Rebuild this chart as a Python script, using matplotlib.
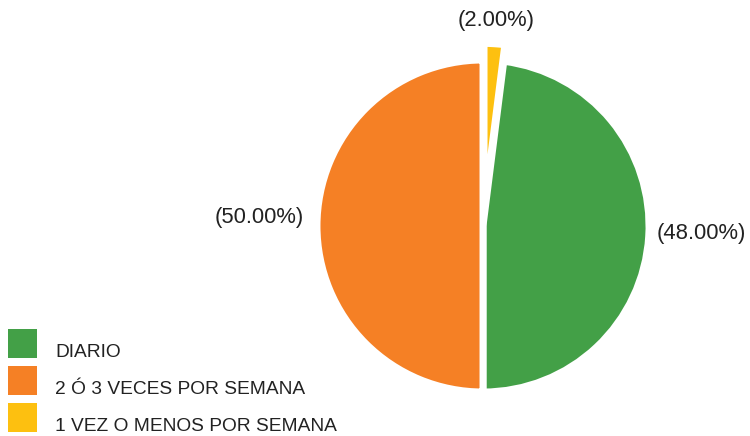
import math
import matplotlib
matplotlib.use("Agg")
import matplotlib.pyplot as plt
from matplotlib.patches import Rectangle

plt.rcParams['font.family'] = ['Liberation Sans', 'DejaVu Sans']

# data
categories = ["DIARIO", "2 Ó 3 VECES POR SEMANA", "1 VEZ O MENOS POR SEMANA"]
shares = [48, 50, 2]
colors = ["#43A047", "#F58025", "#FDC010"]
explode = [0, 0, 0.1]

W, H = 750, 436
fig = plt.figure(figsize=(W / 100, H / 100), dpi=100)
ax = fig.add_axes([0, 0, 1, 1])

labels = ["({:.2f}%)".format(v * 100 / sum(shares)) for v in shares]
wedges, texts = ax.pie(shares, colors=colors, explode=explode, startangle=82.8,
                       counterclock=False, labels=labels, labeldistance=1.08,
                       wedgeprops=dict(edgecolor="white", linewidth=5),
                       textprops=dict(fontsize=15.8, color="#222222"))

# small slice label goes above, centered
w = wedges[2]
mid = math.radians((w.theta1 + w.theta2) / 2)
cx, cy = w.center
texts[2].set_position((cx + 1.14 * math.cos(mid), cy + 1.14 * math.sin(mid)))
texts[2].set_ha("center")
# nudge the side labels a little, like the original
x0, y0 = texts[1].get_position()
texts[1].set_position((x0, y0 + 0.05))
x0, y0 = texts[0].get_position()
texts[0].set_position((x0 - 0.03, y0 + 0.02))

# place pie in the figure (center ~ (483, 226) px, radius ~166 px)
scale = 166
ax.set_xlim(-483 / scale, (W - 483) / scale)
ax.set_ylim(-(H - 226) / scale, 226 / scale)
ax.set_aspect("auto")

# legend: colour squares with labels, drawn in pixel units
box = 29
for i, (cat, col) in enumerate(zip(categories, colors)):
    top = 329 + 37 * i
    fig.add_artist(Rectangle((8 / W, 1 - (top + box) / H), box / W, box / H,
                             transform=fig.transFigure, facecolor=col, edgecolor="none"))
    fig.text(55 / W, 1 - (top + 23) / H, cat, fontsize=13.8, color="#222222",
             ha="left", va="center")

fig.savefig("out.png", dpi=100)
